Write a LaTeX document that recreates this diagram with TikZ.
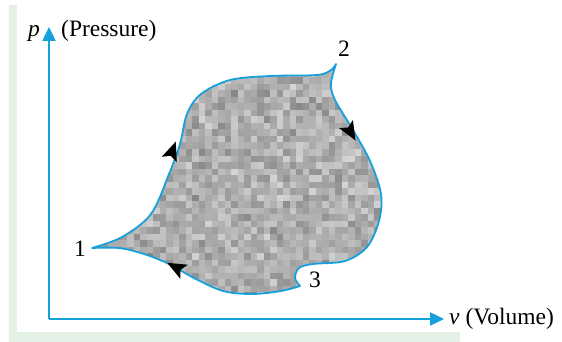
\documentclass[tikz,border=0pt]{standalone}
\usepackage{fontspec}
\setmainfont{Liberation Serif}
\usetikzlibrary{arrows.meta}
\definecolor{axblue}{RGB}{22,160,220}
\definecolor{bggreen}{RGB}{228,241,231}
\tikzset{
  axisline/.style={draw=axblue, line width=2.4pt, -{Triangle[length=14pt,width=13pt]}},
  outline/.style={draw=axblue, line width=1.8pt, line join=round},
  lbl/.style={inner sep=0pt, font=\fontsize{23.5}{27}\selectfont},
  flowhead/.pic={\fill[black] (11,0) -- (-8,8) -- (-4,0) -- (-8,-8) -- cycle;}
}
\begin{document}
\begin{tikzpicture}[x=1pt,y=-1pt]
\useasboundingbox (0,0) rectangle (562,342);
\fill[bggreen] (9,5) rectangle (17,342);
\fill[bggreen] (9,332) rectangle (460,342);

% textured fill
\begin{scope}
\clip plot[smooth,tension=0.55] coordinates {(92,248) (122,237) (151,214) (169,174) (180,144) (187,114) (201,94) (230,80) (270,76) (317,75) (331,70) (336,64)}
  -- plot[smooth,tension=0.55] coordinates {(336,64) (331,84) (335,100) (353,130) (370,161) (381,194) (379,221) (367,247) (345,261) (313,264) (299,268) (295,278) (300,286)}
  -- plot[smooth,tension=0.55] coordinates {(300,286) (281,291) (252,294) (223,291) (194,278) (169,264) (144,254) (119,248) (92,248)} -- cycle;
\fill[black!33] (85,55) rectangle (390,300);
\pgfmathsetseed{7}
\foreach \i in {0,...,46}{
  \foreach \j in {0,...,37}{
    \pgfmathsetmacro{\g}{int(16+16*rnd+16*rnd)}
    \fill[black!\g] ({88+6.5*\i},{58+6.5*\j}) rectangle +(6.6,6.6);
  }
}
\end{scope}

\draw[outline] plot[smooth,tension=0.55] coordinates {(92,248) (122,237) (151,214) (169,174) (180,144) (187,114) (201,94) (230,80) (270,76) (317,75) (331,70) (336,64)}
  -- plot[smooth,tension=0.55] coordinates {(336,64) (331,84) (335,100) (353,130) (370,161) (381,194) (379,221) (367,247) (345,261) (313,264) (299,268) (295,278) (300,286)}
  -- plot[smooth,tension=0.55] coordinates {(300,286) (281,291) (252,294) (223,291) (194,278) (169,264) (144,254) (119,248) (92,248)} -- cycle;

\pic[rotate=70] at (172,152) {flowhead};
\pic[rotate=-60] at (350,131) {flowhead};
\pic[rotate=152] at (177,268) {flowhead};

% axes
\coordinate (O) at (49,319);
\coordinate (ytip) at (49,27);
\coordinate (xtip) at (444,319);
\draw[axisline] (O) -- (ytip);
\draw[axisline] (O) -- (xtip);

% labels
\node[lbl, anchor=base] (plab) at (34,37) {\textit{p}};
\node[lbl, anchor=base west] (pres) at (61,37) {(Pressure)};
\node[lbl, anchor=base west] (vlab) at (449,324) {\textit{v} (Volume)};
\node[lbl, anchor=base] (n1) at (80,256) {1};
\node[lbl, anchor=base] (n2) at (344,57) {2};
\node[lbl, anchor=base] (n3) at (315,287) {3};
\end{tikzpicture}
\end{document}
